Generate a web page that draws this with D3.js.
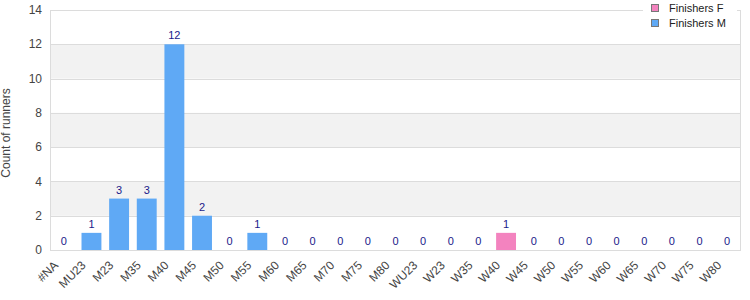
<!DOCTYPE html>
<html>
<head>
<meta charset="utf-8">
<script src="https://cdn.jsdelivr.net/npm/d3@7"></script>
<style>
  body { margin: 0; background: #fff; }
  text { font-family: "Liberation Sans", Arial, sans-serif; }
</style>
</head>
<body>
<div id="chart"></div>
<script>
const categories = ["#NA","MU23","M23","M35","M40","M45","M50","M55","M60","M65","M70","M75","M80",
  "WU23","W23","W35","W40","W45","W50","W55","W60","W65","W70","W75","W80"];
const finishersM = [0,1,3,3,12,2,0,1,0,0,0,0,0,0,0,0,0,0,0,0,0,0,0,0,0];
const finishersF = [0,0,0,0,0,0,0,0,0,0,0,0,0,0,0,0,1,0,0,0,0,0,0,0,0];
const yTicks = [0,2,4,6,8,10,12,14];
const seriesNames = ["Finishers F", "Finishers M"];
const seriesColors = {"Finishers F": "#f383bf", "Finishers M": "#5fa9f5"};

const width = 750, height = 300;
const margin = {top: 10, right: 9, bottom: 50, left: 50};
const innerW = width - margin.left - margin.right;
const innerH = height - margin.top - margin.bottom;

const svg = d3.select("#chart").append("svg")
  .attr("width", width).attr("height", height);
const g = svg.append("g").attr("transform", `translate(${margin.left},${margin.top})`);

const x = d3.scaleBand().domain(categories).range([0, innerW]).paddingInner(0.28).paddingOuter(0.14);
const y = d3.scaleLinear().domain([0, 14]).range([innerH, 0]);

// alternating bands
const bandPairs = yTicks.slice(0, -1).map((t, i) => ({lo: t, hi: yTicks[i + 1], i}));
g.append("g").selectAll("rect").data(bandPairs.filter(d => d.i % 2 === 1)).enter()
  .append("rect")
  .attr("x", 0).attr("width", innerW)
  .attr("y", d => y(d.hi)).attr("height", d => y(d.lo) - y(d.hi))
  .attr("fill", "#f2f2f2");

// gridlines
g.append("g").selectAll("line").data(yTicks).enter().append("line")
  .attr("x1", 0).attr("x2", innerW)
  .attr("y1", d => Math.round(y(d)) + 0.5).attr("y2", d => Math.round(y(d)) + 0.5)
  .attr("stroke", "#dcdcdc");

// side borders
g.append("line").attr("x1", 0.5).attr("x2", 0.5).attr("y1", 0).attr("y2", innerH)
  .attr("stroke", "#dcdcdc");
g.append("line").attr("x1", innerW - 0.5).attr("x2", innerW - 0.5).attr("y1", 0).attr("y2", innerH)
  .attr("stroke", "#dcdcdc");

// stacked bars
const rows = categories.map((c, i) => ({cat: c, "Finishers M": finishersM[i], "Finishers F": finishersF[i]}));
const stack = d3.stack().keys(["Finishers M", "Finishers F"])(rows);
g.append("g").selectAll("g").data(stack).enter().append("g")
  .attr("fill", d => seriesColors[d.key])
  .selectAll("rect").data(d => d).enter().append("rect")
  .attr("x", d => x(d.data.cat))
  .attr("width", x.bandwidth())
  .attr("y", d => y(d[1]))
  .attr("height", d => y(d[0]) - y(d[1]));

// value labels (totals)
g.append("g").selectAll("text").data(rows).enter().append("text")
  .attr("x", d => x(d.cat) + x.bandwidth() / 2)
  .attr("y", d => y(d["Finishers M"] + d["Finishers F"]) - 5)
  .attr("text-anchor", "middle")
  .attr("font-size", 11)
  .attr("fill", "#1a1a8a")
  .text(d => d["Finishers M"] + d["Finishers F"]);

// y axis labels
g.append("g").selectAll("text").data(yTicks).enter().append("text")
  .attr("x", -8).attr("y", d => y(d)).attr("dy", "0.35em")
  .attr("text-anchor", "end").attr("font-size", 12).attr("fill", "#444")
  .text(d => d);

// x axis labels
g.append("g").selectAll("text").data(categories).enter().append("text")
  .attr("transform", d => `translate(${x(d) + x.bandwidth() / 2 - 5},${innerH + 16}) rotate(-45)`)
  .attr("text-anchor", "end").attr("font-size", 12).attr("fill", "#444")
  .text(d => d);

// y axis title
svg.append("text")
  .attr("transform", `translate(10,${margin.top + innerH / 2 + 3}) rotate(-90)`)
  .attr("text-anchor", "middle").attr("font-size", 12).attr("fill", "#444")
  .text("Count of runners");

// legend
const legend = svg.append("g").attr("transform", "translate(643,0)");
legend.append("rect").attr("x", 0).attr("y", 0).attr("width", 94).attr("height", 34).attr("fill", "#fff");
const li = legend.selectAll("g").data(seriesNames).enter().append("g")
  .attr("transform", (d, i) => `translate(8,${4 + i * 15})`);
li.append("rect").attr("x", 0.5).attr("y", 0.5).attr("width", 7).attr("height", 7)
  .attr("fill", d => seriesColors[d]).attr("stroke", "#777");
li.append("text").attr("x", 18).attr("y", 8).attr("font-size", 11).attr("fill", "#222")
  .text(d => d);
</script>
</body>
</html>
